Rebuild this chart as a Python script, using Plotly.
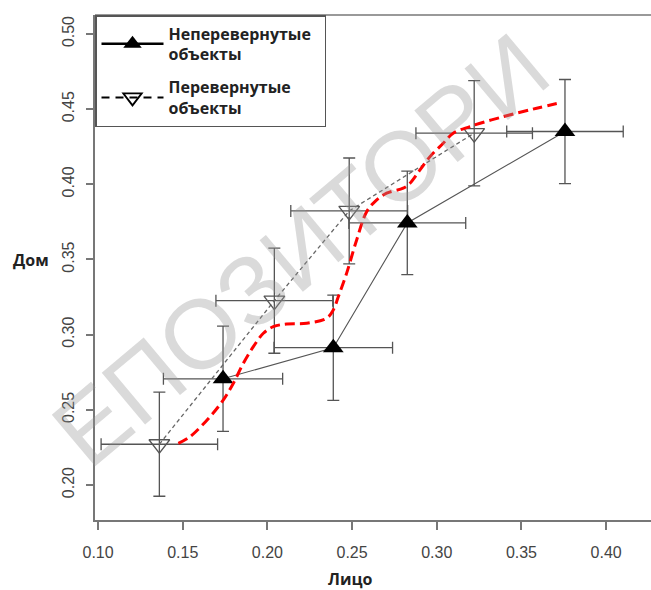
import plotly.graph_objects as go

# Неперевернутые объекты (filled triangles)
upright_x = [0.1738, 0.2389, 0.2826, 0.3757]
upright_y = [0.2706, 0.2913, 0.3743, 0.4351]
upright_xerr = [0.0352, 0.0350, 0.0345, 0.0344]
upright_yerr = [0.0350, 0.0350, 0.0344, 0.0346]

# Перевернутые объекты (open inverted triangles)
inverted_x = [0.1362, 0.2041, 0.2483, 0.3221]
inverted_y = [0.2271, 0.3226, 0.3823, 0.4340]
inverted_xerr = [0.0344, 0.0345, 0.0345, 0.0344]
inverted_yerr = [0.0346, 0.0350, 0.0352, 0.0350]

# red dashed smooth curve
curve_x = [0.1474, 0.1543, 0.1661, 0.1740, 0.1799, 0.1858, 0.1917, 0.1976, 0.2035,
           0.2114, 0.2232, 0.2350, 0.2389, 0.2419, 0.2468, 0.2527, 0.2586, 0.2635,
           0.2704, 0.2802, 0.2842, 0.2901, 0.2960, 0.3038, 0.3097, 0.3196, 0.3393,
           0.3590, 0.3737]
curve_y = [0.2277, 0.2321, 0.2454, 0.2566, 0.2677, 0.2810, 0.2920, 0.3009, 0.3053,
           0.3071, 0.3076, 0.3109, 0.3164, 0.3253, 0.3409, 0.3630, 0.3818, 0.3885,
           0.3941, 0.3974, 0.4007, 0.4096, 0.4184, 0.4273, 0.4340, 0.4384, 0.4450,
           0.4506, 0.4544]

x_ticks = [0.10, 0.15, 0.20, 0.25, 0.30, 0.35, 0.40]
y_ticks = [0.20, 0.25, 0.30, 0.35, 0.40, 0.45, 0.50]

name_upright = "Неперевернутые&nbsp;&nbsp;<br>объекты"
name_inverted = "Перевернутые<br>объекты"
watermark = "ЕПОЗИТОРИ"

ERR = "#555555"
fig = go.Figure()

# error bars
fig.add_trace(go.Scatter(
    x=upright_x, y=upright_y, mode="markers", marker=dict(size=1, opacity=0),
    error_x=dict(type="data", array=upright_xerr, color=ERR, thickness=1.3, width=6),
    error_y=dict(type="data", array=upright_yerr, color=ERR, thickness=1.3, width=6),
    showlegend=False, hoverinfo="skip"))
fig.add_trace(go.Scatter(
    x=inverted_x, y=inverted_y, mode="markers", marker=dict(size=1, opacity=0),
    error_x=dict(type="data", array=inverted_xerr, color=ERR, thickness=1.3, width=6),
    error_y=dict(type="data", array=inverted_yerr, color=ERR, thickness=1.3, width=6),
    showlegend=False, hoverinfo="skip"))

# series lines + markers
fig.add_trace(go.Scatter(
    x=upright_x, y=upright_y, mode="lines+markers", showlegend=False,
    line=dict(color="#555555", width=1.1),
    marker=dict(symbol="triangle-up", size=18, color="black", line=dict(width=0))))
fig.add_trace(go.Scatter(
    x=inverted_x, y=inverted_y, mode="lines+markers", showlegend=False,
    line=dict(color="#666666", width=1.3, dash="4px,3px"),
    marker=dict(symbol="triangle-down-open", size=18, color="#555555", line=dict(width=1.3))))

# red dashed curve
fig.add_trace(go.Scatter(
    x=curve_x, y=curve_y, mode="lines", line=dict(color="#ff0000", width=3, dash="10px,5px", shape="spline"),
    showlegend=False, hoverinfo="skip"))

# legend-only entries (styled like the reference's legend keys)
fig.add_trace(go.Scatter(
    x=[None], y=[None], mode="lines+markers", name=name_upright, legendgroup="a",
    line=dict(color="black", width=2.5),
    marker=dict(symbol="triangle-up", size=17, color="black", line=dict(width=0))))
fig.add_trace(go.Scatter(
    x=[None], y=[None], mode="lines+markers", name=name_inverted, legendgroup="b",
    line=dict(color="black", width=2, dash="8px,6px"),
    marker=dict(symbol="triangle-down-open", size=17, color="black", line=dict(width=1.8))))

AX = "#777777"
TICKFONT = dict(family="Liberation Sans, Arial, sans-serif", size=16, color="#444444")
fig.update_xaxes(range=[0.0982, 0.4265], tickvals=x_ticks, tickformat=".2f", automargin=False,
                 ticklabelstandoff=9,
                 showline=True, linecolor=AX, linewidth=1.5, ticks="outside", ticklen=8,
                 tickcolor=AX, tickwidth=1.5, showgrid=False, zeroline=False, tickfont=TICKFONT)
fig.update_yaxes(range=[0.1767, 0.5126], tickvals=y_ticks, tickformat=".2f", tickangle=-90,
                 automargin=False, ticklabelstandoff=6,
                 showline=True, linecolor=AX, linewidth=1.5, ticks="outside", ticklen=7,
                 tickcolor=AX, tickwidth=1.5, showgrid=False, zeroline=False, tickfont=TICKFONT)

W, H = 651, 590
PL, PT, PR, PB = 95, 15, 651, 520  # plot area in page pixels
PW, PH = PR - PL, PB - PT

TITLEFONT = dict(family="Open Sans, Noto Sans, sans-serif", size=16, color="#222222")
fig.update_layout(
    width=W, height=H,
    margin=dict(l=PL, r=W - PR, t=PT, b=H - PB),
    paper_bgcolor="white", plot_bgcolor="white",
    legend=dict(x=0, y=1, xanchor="left", yanchor="top", bgcolor="white",
                bordercolor="#555555", borderwidth=1.5, itemwidth=62,
                font=dict(family="Open Sans, Noto Sans, sans-serif", size=16, color="#222222", weight="bold"),
                tracegroupgap=9),
    shapes=[dict(type="line", xref="paper", yref="paper", x0=0, x1=1, y0=1, y1=1,
                 line=dict(color=AX, width=1.5))],
    annotations=[
        dict(text="<b>Дом</b>", xref="paper", yref="paper", x=(30.5 - PL) / PW, y=(PB - 260) / PH,
             xanchor="center", yanchor="middle", showarrow=False, font=TITLEFONT),
        dict(text="<b>Лицо</b>", xref="paper", yref="paper", x=(350 - PL) / PW, y=(PB - 579) / PH,
             xanchor="center", yanchor="middle", showarrow=False, font=TITLEFONT),
        dict(text=watermark, xref="paper", yref="paper", x=(300 - PL) / PW, y=(PB - 250) / PH,
             xanchor="center", yanchor="middle", showarrow=False, textangle=-40,
             font=dict(family="Liberation Sans, Arial, sans-serif", size=98,
                       color="rgba(150,150,150,0.35)")),
    ],
)

fig.write_html("out.html", config={"displayModeBar": False},
               post_script="document.body.style.margin='0';document.body.style.overflow='hidden';")
